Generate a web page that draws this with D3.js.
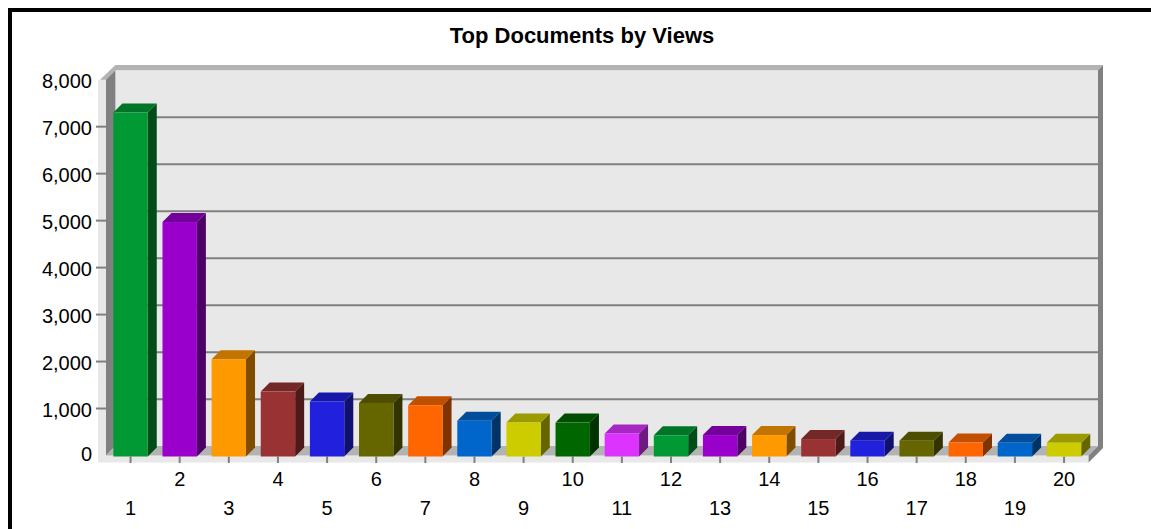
<!DOCTYPE html>
<html>
<head>
<meta charset="utf-8">
<script src="https://cdn.jsdelivr.net/npm/d3@7"></script>
<style>
  html, body { margin: 0; padding: 0; background: #ffffff; }
  svg { display: block; font-family: "Liberation Sans", Arial, sans-serif; }
</style>
</head>
<body>
<svg id="chart" width="1151" height="529"></svg>
<script>
// Document ranks and their view counts
const documents = ["1","2","3","4","5","6","7","8","9","10","11","12","13","14","15","16","17","18","19","20"];
const views = [7300, 4970, 2050, 1360, 1150, 1120, 1070, 740, 705, 700, 470, 430, 435, 435, 350, 315, 315, 275, 270, 270];
const yTicks = [0, 1000, 2000, 3000, 4000, 5000, 6000, 7000, 8000];
const chartTitle = "Top Documents by Views";

// Repeating series palette
const palette = ["#009933", "#9900cc", "#ff9900", "#993333", "#2020dd", "#666600",
                 "#ff6600", "#0066cc", "#cccc00", "#006600", "#dd33ff"];

const svg = d3.select("#chart");

// Frame of the whole image
svg.append("rect").attr("x", 8).attr("y", 8).attr("width", 1143).attr("height", 4).attr("fill", "#000");
svg.append("rect").attr("x", 8).attr("y", 8).attr("width", 4).attr("height", 521).attr("fill", "#000");

// Front plane of the 3D plot box and its depth offset
const front = { left: 106, right: 1088.6, top: 79.7, bottom: 455.5 };
const depth = 9.4;     // wall depth (x shift right, y shift up)
const barDepth = 9;    // bar depth
const rim = 6;         // wall thickness band

const x = d3.scaleBand().domain(documents).range([front.left, front.right])
  .paddingInner(0.3).paddingOuter(0.15);
const y = d3.scaleLinear().domain([0, 8000]).range([front.bottom, front.top]);

const backL = front.left + depth, backR = front.right + depth;
const backTop = y(8000) - depth, backBottom = y(0) - depth;
const pts = a => a.map(p => p.join(",")).join(" ");

const box = svg.append("g");
// front rim (left and bottom thickness)
box.append("polygon").attr("fill", "#e8e8e8").attr("points", pts([
  [front.left - rim - 2, front.top], [front.left, front.top], [front.left, front.bottom],
  [front.right, front.bottom], [front.right, front.bottom + rim + 1],
  [front.left - rim - 2, front.bottom + rim + 1]
]));
// back wall
box.append("rect").attr("x", backL).attr("y", backTop)
  .attr("width", backR - backL).attr("height", backBottom - backTop).attr("fill", "#e8e8e8");
// top rim
box.append("polygon").attr("fill", "#b3b3b3").attr("points", pts([
  [front.left - rim, front.top], [backL, backTop - 5.2], [backR + 5, backTop - 5.2],
  [backR, backTop], [backL, backTop], [front.left, front.top]
]));
// left side wall
box.append("polygon").attr("fill", "#808080").attr("points", pts([
  [front.left, front.top], [backL, backTop], [backL, backBottom], [front.left, front.bottom]
]));
// floor
box.append("polygon").attr("fill", "#b3b3b3").attr("points", pts([
  [front.left, front.bottom], [backL, backBottom], [backR, backBottom], [front.right, front.bottom]
]));
// right rim
box.append("polygon").attr("fill", "#808080").attr("points", pts([
  [backR, backTop], [backR + 5, backTop - 5.2], [backR + 5, backBottom + 2],
  [front.right, front.bottom + rim + 1], [front.right, front.bottom], [backR, backBottom]
]));

// gridlines on the back wall
box.selectAll("line.grid").data(yTicks.filter(t => t > 0 && t < 8000)).join("line")
  .attr("class", "grid")
  .attr("x1", backL).attr("x2", backR)
  .attr("y1", d => y(d) - depth).attr("y2", d => y(d) - depth)
  .attr("stroke", "#808080").attr("stroke-width", 2);

// y axis ticks and labels
const yAxis = svg.append("g");
yAxis.selectAll("line").data(yTicks.filter(t => t > 0 && t < 8000)).join("line")
  .attr("x1", front.left - 10).attr("x2", front.left)
  .attr("y1", d => y(d)).attr("y2", d => y(d))
  .attr("stroke", "#808080").attr("stroke-width", 2);
yAxis.selectAll("text").data(yTicks).join("text")
  .attr("x", 92).attr("y", d => y(d) + (d === 0 ? -1.5 : 1))
  .attr("dy", "0.35em").attr("text-anchor", "end")
  .attr("font-size", 20).attr("fill", "#000")
  .text(d3.format(","));

// x axis ticks and staggered labels
const xAxis = svg.append("g");
xAxis.selectAll("line").data(documents).join("line")
  .attr("x1", d => x(d) + x.bandwidth() / 2).attr("x2", d => x(d) + x.bandwidth() / 2)
  .attr("y1", front.bottom + 1).attr("y2", front.bottom + rim + 1.5)
  .attr("stroke", "#808080").attr("stroke-width", 2);
xAxis.selectAll("text").data(documents).join("text")
  .attr("x", d => x(d) + x.bandwidth() / 2)
  .attr("y", (d, i) => i % 2 === 1 ? 486 : 515)
  .attr("text-anchor", "middle").attr("font-size", 20).attr("fill", "#000")
  .text(d => d);

// 3D bars
const shade = (c, k) => { const r = d3.rgb(c); return d3.rgb(r.r * k, r.g * k, r.b * k).formatHex(); };
const bars = svg.append("g").selectAll("g").data(documents).join("g");
bars.each(function(d, i) {
  const g = d3.select(this);
  const c = palette[i % palette.length];
  const x0 = x(d), w = x.bandwidth(), yt = y(views[i]), yb = y(0) + 1;
  g.append("polygon").attr("fill", shade(c, 0.5)).attr("points", pts([
    [x0 + w, yt], [x0 + w + barDepth, yt - barDepth], [x0 + w + barDepth, yb - barDepth], [x0 + w, yb]
  ]));
  g.append("polygon").attr("fill", shade(c, 0.76)).attr("points", pts([
    [x0, yt], [x0 + barDepth, yt - barDepth], [x0 + w + barDepth, yt - barDepth], [x0 + w, yt]
  ]));
  g.append("rect").attr("x", x0).attr("y", yt).attr("width", w).attr("height", yb - yt).attr("fill", c);
});

// title
svg.append("text").attr("x", 582).attr("y", 43).attr("text-anchor", "middle")
  .attr("font-size", 22).attr("font-weight", "bold").attr("fill", "#000")
  .text(chartTitle);
</script>
</body>
</html>
